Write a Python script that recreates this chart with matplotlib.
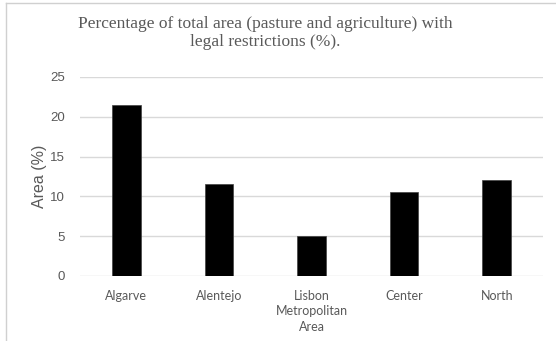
import matplotlib
matplotlib.use("Agg")
import matplotlib.pyplot as plt
from matplotlib.lines import Line2D

regions = ["Algarve", "Alentejo", "Lisbon\nMetropolitan\nArea", "Center", "North"]
restricted_pct = [21.5, 11.5, 5.0, 10.6, 12.0]
y_ticks = [0, 5, 10, 15, 20, 25]

W, H = 556, 341
fig = plt.figure(figsize=(W / 100, H / 100), dpi=100)
ax = fig.add_axes([80 / W, 1 - 276 / H, (543 - 80) / W, (276 - 77) / H])

text_gray = "#595959"
grid_gray = "#d9d9d9"

x = range(len(regions))
ax.bar(x, restricted_pct, width=0.31, color="black", edgecolor="#404040",
       linewidth=0.5, zorder=3)

ax.set_xlim(-0.5, len(regions) - 0.5)
ax.set_ylim(0, 25)
ax.set_yticks(y_ticks)
ax.set_yticklabels([str(t) for t in y_ticks], fontsize=9.5,
                   family="Liberation Sans", color=text_gray)
ax.set_xticks(list(x))
ax.set_xticklabels(regions, fontsize=9, family="Lato", color=text_gray,
                   linespacing=1.35, va="top")
ax.tick_params(axis="both", length=0)
ax.tick_params(axis="x", pad=10)
ax.tick_params(axis="y", pad=11)

ax.grid(axis="y", color=grid_gray, linewidth=1.0, zorder=0)
for s in ax.spines.values():
    s.set_visible(False)

ax.set_ylabel("Area (%)", fontsize=11.5, family="Liberation Sans",
              color=text_gray, labelpad=2)

fig.text(265 / W, 1 - 33 / H,
         "Percentage of total area (pasture and agriculture) with\nlegal restrictions (%).",
         ha="center", va="center", fontsize=12.5, family="Liberation Serif",
         color=text_gray, linespacing=1.1)

# thin frame along the top and left of the chart area
fig.add_artist(Line2D([5.5 / W, 5.5 / W], [0, 1 - 3 / H], transform=fig.transFigure,
                      color="#d0d0d0", linewidth=1.0))
fig.add_artist(Line2D([5.5 / W, 1], [1 - 3 / H, 1 - 3 / H], transform=fig.transFigure,
                      color="#d0d0d0", linewidth=1.0))

fig.savefig("out.png", dpi=100)
